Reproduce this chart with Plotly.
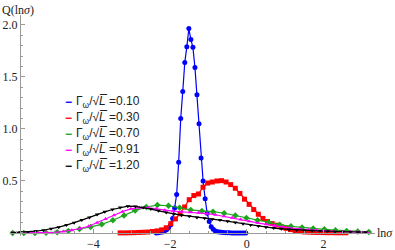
import plotly.graph_objects as go

# ---------------- data ----------------
blue_x = [-2.358, -2.305, -2.252, -2.199, -2.146, -2.093, -2.040, -1.987, -1.934, -1.881,
          -1.828, -1.775, -1.722, -1.669, -1.616, -1.563, -1.510, -1.457, -1.404, -1.351,
          -1.298, -1.245, -1.192, -1.139, -1.086, -1.033, -0.980, -0.927, -0.874, -0.821,
          -0.768, -0.715, -0.662, -0.609, -0.556, -0.503, -0.450, -0.397, -0.344, -0.291,
          -0.238, -0.185, -0.132, -0.079, -0.026]
blue_y = [0.001, 0.003, 0.006, 0.010, 0.018, 0.030, 0.048, 0.077, 0.140, 0.240,
          0.370, 0.680, 1.100, 1.360, 1.640, 1.790, 1.965, 1.860, 1.785, 1.590,
          1.330, 1.050, 0.720, 0.500, 0.330, 0.190, 0.110, 0.060, 0.035, 0.020,
          0.013, 0.009, 0.006, 0.004, 0.003, 0.002, 0.002, 0.001, 0.001, 0.001,
          0.001, 0.000, 0.000, 0.000, 0.000]

red_x = [-3.30, -3.18, -3.06, -2.94, -2.82, -2.70, -2.58, -2.46, -2.34, -2.22,
         -2.10, -1.98, -1.86, -1.74, -1.62, -1.50, -1.38, -1.26, -1.14, -1.02,
         -0.90, -0.78, -0.66, -0.54, -0.42, -0.30, -0.18, -0.06, 0.06, 0.18,
         0.30, 0.42, 0.54, 0.66, 0.78, 0.90, 1.02, 1.14, 1.26, 1.38,
         1.50, 1.62, 1.74, 1.86, 1.98, 2.10, 2.22, 2.34, 2.46, 2.58]
red_y = [0.001, 0.001, 0.002, 0.003, 0.005, 0.007, 0.009, 0.014, 0.020, 0.030,
         0.050, 0.090, 0.135, 0.185, 0.250, 0.320, 0.360, 0.375, 0.440, 0.480,
         0.490, 0.500, 0.503, 0.490, 0.465, 0.430, 0.380, 0.325, 0.275, 0.225,
         0.180, 0.140, 0.110, 0.090, 0.075, 0.058, 0.045, 0.033, 0.022, 0.015,
         0.010, 0.008, 0.006, 0.005, 0.004, 0.003, 0.003, 0.002, 0.002, 0.002]

green_x = [-6.10, -5.81, -5.52, -5.23, -4.94, -4.65, -4.36, -4.07, -3.78, -3.49,
           -3.20, -2.91, -2.62, -2.33, -2.04, -1.75, -1.46, -1.17, -0.88, -0.59,
           -0.30, -0.01, 0.28, 0.57, 0.86, 1.15, 1.44, 1.73, 2.02, 2.31,
           2.60, 2.89, 3.18]
green_y = [0.000, 0.000, 0.001, 0.003, 0.008, 0.020, 0.038, 0.058, 0.083, 0.122,
           0.168, 0.215, 0.250, 0.268, 0.262, 0.242, 0.222, 0.212, 0.205, 0.190,
           0.168, 0.145, 0.123, 0.100, 0.080, 0.064, 0.052, 0.043, 0.035, 0.027,
           0.020, 0.014, 0.010]

magenta_x = [-6.10, -5.88, -5.66, -5.44, -5.22, -5.00, -4.78, -4.56, -4.34, -4.12,
             -3.90, -3.68, -3.46, -3.24, -3.02, -2.80, -2.58, -2.36, -2.14, -1.92,
             -1.70, -1.48, -1.26, -1.04, -0.82, -0.60, -0.38, -0.16, 0.06, 0.28,
             0.50, 0.72, 0.94, 1.16, 1.38, 1.60, 1.82, 2.04, 2.26, 2.48,
             2.70, 2.92, 3.14]
magenta_y = [0.000, 0.000, 0.000, 0.001, 0.002, 0.006, 0.014, 0.026, 0.043, 0.065,
             0.098, 0.135, 0.170, 0.205, 0.232, 0.243, 0.245, 0.232, 0.218, 0.210,
             0.204, 0.200, 0.195, 0.186, 0.175, 0.161, 0.146, 0.130, 0.114, 0.098,
             0.083, 0.069, 0.056, 0.046, 0.038, 0.031, 0.025, 0.020, 0.016, 0.013,
             0.011, 0.009, 0.008]

black_x = [-6.1, -5.9, -5.7, -5.5, -5.3, -5.1, -4.9, -4.7, -4.5, -4.3,
           -4.1, -3.9, -3.7, -3.5, -3.3, -3.1, -2.9, -2.7, -2.5, -2.3,
           -2.1, -1.9, -1.7, -1.5, -1.3, -1.1, -0.9, -0.7, -0.5, -0.3,
           -0.1, 0.1, 0.3, 0.5, 0.7, 0.9, 1.1, 1.3, 1.5, 1.7,
           1.9, 2.1, 2.3, 2.5, 2.7, 2.9, 3.1]
black_y = [0.003, 0.006, 0.010, 0.017, 0.026, 0.040, 0.056, 0.076, 0.098, 0.124,
           0.150, 0.178, 0.203, 0.226, 0.245, 0.258, 0.255, 0.244, 0.230, 0.213,
           0.196, 0.183, 0.171, 0.160, 0.150, 0.142, 0.133, 0.124, 0.112, 0.101,
           0.089, 0.077, 0.066, 0.056, 0.047, 0.040, 0.034, 0.029, 0.025, 0.022,
           0.019, 0.016, 0.013, 0.011, 0.009, 0.008, 0.007]

legend_values = ["0.10", "0.30", "0.70", "0.91", "1.20"]
x_ticks = [-4, -2, 0, 2]
y_ticks = [0.5, 1.0, 1.5, 2.0]
y_ticklabels = ["0.5", "1.0", "1.5", "2.0"]

# ---------------- figure ----------------
series = [
    (blue_x, blue_y, "#0000ff", "circle", 5),
    (red_x, red_y, "#ff0000", "square", 5),
    (green_x, green_y, "#1ea51e", "diamond", 5),
    (magenta_x, magenta_y, "#ff00ff", "triangle-up", 4),
    (black_x, black_y, "#000000", "triangle-down", 4),
]

fig = go.Figure()
for xs, ys, col, sym, sz in series:
    fig.add_trace(go.Scatter(
        x=xs, y=ys, mode="lines+markers",
        line=dict(color=col, width=1.2),
        marker=dict(color=col, symbol=sym, size=sz, line=dict(width=0)),
        showlegend=False, cliponaxis=False))

XMIN, XMAX = -6.17, 3.34
YMIN, YMAX = -0.029, 2.096
X_AXIS_AT = -5.91

axis_col = "#9a9a9a"
tick_font = dict(family="Liberation Serif", size=12, color="#222222")

fig.update_layout(
    width=395, height=250,
    margin=dict(l=10, r=20, t=15, b=14, autoexpand=False),
    paper_bgcolor="white", plot_bgcolor="white",
    xaxis=dict(range=[XMIN, XMAX], showgrid=False, zeroline=False, automargin=False,
               showline=True, linecolor=axis_col, linewidth=1,
               anchor="free", position=(0 - YMIN) / (YMAX - YMIN),
               tickmode="array", tickvals=x_ticks,
               ticks="inside", ticklen=4, tickcolor=axis_col, tickwidth=1,
               minor=dict(dtick=0.5, tick0=0, ticks="inside", ticklen=2,
                          tickcolor=axis_col, tickwidth=1),
               tickfont=tick_font),
    yaxis=dict(range=[YMIN, YMAX], showgrid=False, zeroline=False, automargin=False,
               showline=True, linecolor=axis_col, linewidth=1,
               anchor="free", position=(X_AXIS_AT - XMIN) / (XMAX - XMIN),
               tickmode="array", tickvals=y_ticks, ticktext=y_ticklabels,
               ticks="inside", ticklen=4, tickcolor=axis_col, tickwidth=1,
               minor=dict(dtick=0.1, tick0=0, ticks="inside", ticklen=2,
                          tickcolor=axis_col, tickwidth=1),
               tickfont=tick_font),
)

# axis labels
fig.add_annotation(text="Q(ln<i>σ</i>)", xref="paper", yref="paper",
                   x=-0.027, y=1.0226, xanchor="left", yanchor="middle",
                   showarrow=False,
                   font=dict(family="Liberation Serif", size=12, color="#222222"))
fig.add_annotation(text="ln<i>σ</i>", xref="paper", yref="paper",
                   x=1.0, y=(0 - YMIN) / (YMAX - YMIN), xanchor="left", yanchor="middle",
                   showarrow=False,
                   font=dict(family="Liberation Serif", size=12, color="#222222"))

# legend (coloured dash + label)
leg_y = [1.26, 1.106, 0.952, 0.798, 0.644]
for (xs, ys, col, sym, sz), val, ly in zip(series, legend_values, leg_y):
    fig.add_annotation(text="<b>−</b>", x=-4.80, y=ly, xref="x", yref="y",
                       xanchor="left", yanchor="middle", showarrow=False,
                       font=dict(family="Liberation Sans", size=12, color=col))
    txt = f"Γ<sub>ω</sub>/√<i>L\u0305</i> ={val}"
    fig.add_annotation(text=txt, x=-4.50, y=ly, xref="x", yref="y",
                       xanchor="left", yanchor="middle", showarrow=False,
                       font=dict(family="Liberation Sans", size=12, color="#222222"))

fig.write_html("out.html", post_script="document.body.style.margin='0';",
               config={"displayModeBar": False})
